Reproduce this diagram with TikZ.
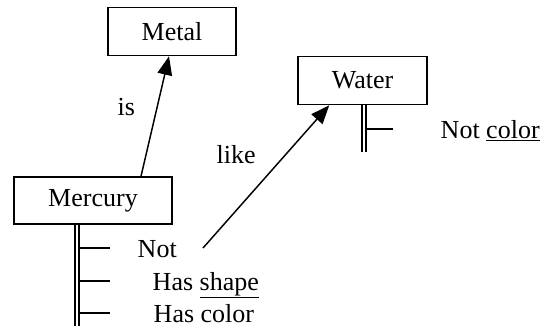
\documentclass[tikz,border=0pt]{standalone}
\usepackage{fontspec}
\setmainfont{Liberation Serif}
\usetikzlibrary{arrows.meta}
\begin{document}
\begin{tikzpicture}[x=0.75pt,y=-0.75pt,line width=1.1pt,>={Triangle[length=14pt,width=11pt]},
    lbl/.style={inner sep=0pt,anchor=base west,font=\fontsize{19.5pt}{23pt}\selectfont},
    concept/.style={draw,inner sep=0pt,font=\fontsize{19.5pt}{23pt}\selectfont}]
    \useasboundingbox (0,0) rectangle (541,326);
    % the three concepts
    \node[concept,minimum width=96pt,minimum height=36pt] (metal) at (172,31.5) {Metal};
    \node[concept,minimum width=118.5pt,minimum height=35.25pt] (mercury) at (93,200.5) {Mercury};
    \node[concept,minimum width=96.75pt,minimum height=36pt] (water) at (362.5,80.5) {Water};
    % relations
    \draw[->] ([xshift=36pt]mercury.north) -- ([xshift=-2.25pt]metal.south);
    \node[lbl] (islbl) at (117,115) {is};
    \coordinate (likefrom) at (203,248);
    \draw[->] (likefrom) -- ([xshift=24pt]water.south west);
    \node[lbl] (likelbl) at (216,163) {like};
    % property stems
    \draw (75,224) -- (75,326);
    \draw (79,224) -- (79,326);
    \draw (362,104) -- (362,152);
    \draw (366,104) -- (366,152);
    \coordinate (t1) at (79,248);
    \coordinate (t2) at (79,281);
    \coordinate (t3) at (79,313);
    \coordinate (t4) at (366,129);
    \draw (t1) -- ++(31,0);
    \draw (t2) -- ++(31,0);
    \draw (t3) -- ++(31,0);
    \draw (t4) -- ++(27,0);
    \node[lbl] (notlbl) at (137,257) {Not};
    \node[lbl] (shapelbl) at (152,290) {Has \underline{shape}};
    \node[lbl] (colorlbl) at (153,322) {Has color};
    \node[lbl] (notcolorlbl) at (440,138) {Not \underline{color}};
\end{tikzpicture}
\end{document}
